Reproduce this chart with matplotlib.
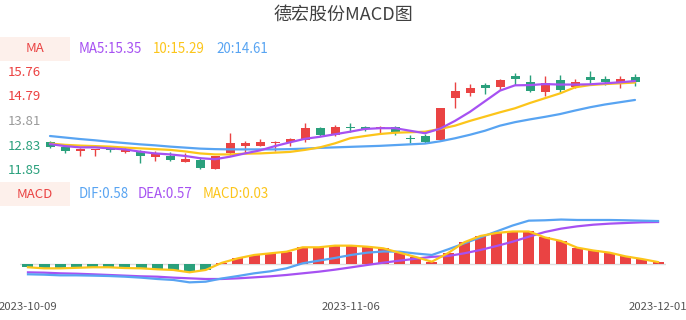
import matplotlib
matplotlib.use("Agg")
import matplotlib.pyplot as plt
from matplotlib.patches import Rectangle
import numpy as np

plt.rcParams['font.family'] = ['Noto Sans CJK SC', 'DejaVu Sans']

# ---------------- data ----------------
dates = ["2023-10-09", "2023-10-10", "2023-10-11", "2023-10-12", "2023-10-13",
         "2023-10-16", "2023-10-17", "2023-10-18", "2023-10-19", "2023-10-20",
         "2023-10-23", "2023-10-24", "2023-10-25", "2023-10-26", "2023-10-27",
         "2023-10-30", "2023-10-31", "2023-11-01", "2023-11-02", "2023-11-03",
         "2023-11-06", "2023-11-07", "2023-11-08", "2023-11-09", "2023-11-10",
         "2023-11-13", "2023-11-14", "2023-11-15", "2023-11-16", "2023-11-17",
         "2023-11-20", "2023-11-21", "2023-11-22", "2023-11-23", "2023-11-24",
         "2023-11-27", "2023-11-28", "2023-11-29", "2023-11-30", "2023-12-01"]

open_ = [12.94, 12.75, 12.58, 12.63, 12.67, 12.52, 12.59, 12.33, 12.38, 12.15,
         12.22, 11.86, 12.48, 12.77, 12.79, 12.89, 12.92, 13.01, 13.48, 13.21,
         13.51, 13.54, 13.45, 13.54, 13.10, 13.17, 13.01, 14.69, 14.86, 15.20,
         15.13, 15.56, 15.31, 14.90, 15.38, 15.10, 15.52, 15.43, 15.26, 15.52]
close = [12.72, 12.58, 12.64, 12.64, 12.63, 12.61, 12.39, 12.47, 12.22, 12.27,
         11.89, 12.38, 12.89, 12.89, 12.93, 12.94, 13.04, 13.50, 13.21, 13.52,
         13.49, 13.45, 13.54, 13.32, 13.06, 12.94, 14.27, 14.95, 15.06, 15.06,
         15.39, 15.44, 14.97, 15.28, 14.99, 15.30, 15.39, 15.30, 15.42, 15.32]
high = [12.97, 12.76, 12.69, 12.67, 12.72, 12.72, 12.62, 12.58, 12.53, 12.48,
        12.35, 12.38, 13.30, 12.97, 13.05, 12.97, 13.08, 13.70, 13.54, 13.61,
        13.67, 13.57, 13.58, 13.58, 13.21, 13.25, 14.27, 15.32, 15.23, 15.28,
        15.43, 15.68, 15.59, 15.54, 15.59, 15.43, 15.75, 15.55, 15.55, 15.63]
low = [12.68, 12.48, 12.39, 12.39, 12.55, 12.48, 12.09, 12.19, 12.19, 12.13,
       11.85, 11.85, 12.42, 12.51, 12.79, 12.59, 12.79, 12.94, 13.18, 13.18,
       13.34, 13.37, 13.28, 13.20, 12.90, 12.88, 13.01, 14.29, 14.77, 14.82,
       14.99, 15.19, 14.90, 14.77, 14.86, 15.06, 15.19, 15.19, 15.09, 15.15]

ma5 = [12.85, 12.77, 12.72, 12.72, 12.68, 12.64, 12.55, 12.48, 12.44, 12.38,
       12.29, 12.25, 12.35, 12.48, 12.60, 12.77, 12.92, 13.06, 13.14, 13.24,
       13.34, 13.45, 13.48, 13.48, 13.38, 13.28, 13.46, 13.77, 14.13, 14.55,
       14.97, 15.18, 15.19, 15.23, 15.21, 15.21, 15.22, 15.26, 15.30, 15.35]
ma10 = [12.87, 12.82, 12.79, 12.77, 12.75, 12.71, 12.68, 12.65, 12.62, 12.56,
        12.48, 12.44, 12.44, 12.47, 12.48, 12.51, 12.54, 12.62, 12.72, 12.88,
        13.08, 13.17, 13.25, 13.30, 13.32, 13.34, 13.45, 13.58, 13.77, 13.94,
        14.11, 14.27, 14.48, 14.67, 14.86, 15.10, 15.19, 15.23, 15.26, 15.29]
ma20 = [13.17, 13.11, 13.05, 13.00, 12.94, 12.89, 12.84, 12.80, 12.75, 12.71,
        12.67, 12.65, 12.64, 12.64, 12.64, 12.64, 12.65, 12.67, 12.70, 12.72,
        12.74, 12.76, 12.78, 12.81, 12.84, 12.87, 12.96, 13.08, 13.22, 13.38,
        13.58, 13.72, 13.83, 13.93, 14.04, 14.18, 14.31, 14.42, 14.51, 14.60]

dif = [-0.134, -0.139, -0.148, -0.148, -0.152, -0.157, -0.166, -0.179, -0.197, -0.210,
       -0.242, -0.233, -0.190, -0.157, -0.121, -0.094, -0.054, 0.013, 0.049, 0.085,
       0.125, 0.156, 0.172, 0.169, 0.145, 0.125, 0.200, 0.280, 0.360, 0.440,
       0.520, 0.585, 0.590, 0.600, 0.594, 0.594, 0.594, 0.590, 0.585, 0.580]
dea = [-0.108, -0.112, -0.121, -0.126, -0.134, -0.143, -0.152, -0.161, -0.166, -0.179,
       -0.188, -0.197, -0.197, -0.188, -0.175, -0.161, -0.143, -0.121, -0.099, -0.072,
       -0.041, -0.009, 0.022, 0.049, 0.075, 0.100, 0.111, 0.147, 0.192, 0.245,
       0.303, 0.370, 0.433, 0.478, 0.509, 0.531, 0.545, 0.554, 0.563, 0.567]
macd = [-0.040, -0.054, -0.054, -0.047, -0.040, -0.040, -0.050, -0.054, -0.067, -0.076,
        -0.107, -0.076, 0.020, 0.080, 0.125, 0.147, 0.169, 0.228, 0.228, 0.250,
        0.250, 0.236, 0.214, 0.155, 0.098, 0.035, 0.150, 0.295, 0.379, 0.420,
        0.440, 0.440, 0.360, 0.312, 0.223, 0.185, 0.156, 0.106, 0.071, 0.030]

price_ticks = [11.85, 12.83, 13.81, 14.79, 15.76]
price_tick_colors = ['#2aa07c', '#2aa07c', '#9a9a9a', '#ec4040', '#ec4040']
date_ticks = [0, 20, 39]

title = "德宏股份MACD图"
ma_legend = [("MA5:15.35", '#a651f2'), ("10:15.29", '#fcc51a'), ("20:14.61", '#58a4f2')]
macd_legend = [("DIF:0.58", '#58a4f2'), ("DEA:0.57", '#a651f2'), ("MACD:0.03", '#fcc51a')]

RED = '#ea4343'
GREEN = '#2aa07c'
PURPLE = '#a651f2'
YELLOW = '#fcc51a'
BLUE = '#58a4f2'

W, H = 686, 320
fig = plt.figure(figsize=(W / 100, H / 100), dpi=100)


def fx(px):
    return px / W


def fy(py):
    return 1 - py / H


# ---------------- title & legends ----------------
fig.text(fx(343), fy(15), title, ha='center', va='center', fontsize=13, color='#404040')

fig.patches.append(Rectangle((0, fy(61)), fx(70), 24 / H, transform=fig.transFigure,
                             facecolor='#fdf0eb', edgecolor='none', zorder=0))
fig.text(fx(35), fy(49), "MA", ha='center', va='center', fontsize=9.5, color=RED)
for (txt, col), x in zip(ma_legend, [79, 153, 216]):
    fig.text(fx(x), fy(49), txt, ha='left', va='center', fontsize=9.6, color=col)

fig.patches.append(Rectangle((0, fy(206)), fx(70), 24 / H, transform=fig.transFigure,
                             facecolor='#fdf0eb', edgecolor='none', zorder=0))
fig.text(fx(35), fy(194), "MACD", ha='center', va='center', fontsize=9.5, color=RED)
for (txt, col), x in zip(macd_legend, [79, 138, 203]):
    fig.text(fx(x), fy(194), txt, ha='left', va='center', fontsize=9.6, color=col)

# ---------------- price pane ----------------
ax1 = fig.add_axes([fx(42.5), fy(169.3), 600 / W, 98.6 / H])
ax1.set_xlim(-0.5, len(dates) - 0.5)
ax1.set_ylim(price_ticks[0], price_ticks[-1])
for s in ax1.spines.values():
    s.set_visible(False)
ax1.set_xticks([])
ax1.set_yticks(price_ticks)
ax1.set_yticklabels([f"{v:.2f}" for v in price_ticks])
ax1.tick_params(axis='y', length=0, pad=1, labelsize=9.5)
for lab, col in zip(ax1.get_yticklabels(), price_tick_colors):
    lab.set_color(col)

x = np.arange(len(dates))
for i in x:
    o, c, h, l = open_[i], close[i], high[i], low[i]
    col = RED if c >= o else GREEN
    ax1.vlines(i, l, h, color=col, lw=1, zorder=2, clip_on=False)
    bh = max(abs(c - o), 0.012)
    ax1.bar(i, bh, bottom=min(o, c), width=0.6, color=col, zorder=3, clip_on=False)

ax1.plot(x, ma20, color=BLUE, lw=1.6, zorder=4, solid_capstyle='round')
ax1.plot(x, ma10, color=YELLOW, lw=1.6, zorder=4, solid_capstyle='round')
ax1.plot(x, ma5, color=PURPLE, lw=1.6, zorder=4, solid_capstyle='round')

# ---------------- MACD pane ----------------
ax2 = fig.add_axes([fx(19.9), fy(300), 646.2 / W, 90 / H])
ax2.set_xlim(-0.5, len(dates) - 0.5)
ax2.set_ylim((264.3 - 300) / 74.6, (264.3 - 210) / 74.6)
for s in ax2.spines.values():
    s.set_visible(False)
ax2.set_yticks([])
ax2.axhline(0, color='#dddddd', lw=1, zorder=1)
bar_cols = [RED if v >= 0 else GREEN for v in macd]
ax2.bar(x, macd, width=0.68, color=bar_cols, zorder=2)
ax2.plot(x, dea, color=PURPLE, lw=1.6, zorder=3)
ax2.plot(x, dif, color=BLUE, lw=1.6, zorder=3)
ax2.plot(x, macd, color=YELLOW, lw=1.6, zorder=4)
ax2.set_xticks(date_ticks)
ax2.set_xticklabels([dates[i] for i in date_ticks])
ax2.tick_params(axis='x', length=0, pad=1.5, labelsize=8.2, labelcolor='#555555')

fig.savefig("out.png", dpi=100)
